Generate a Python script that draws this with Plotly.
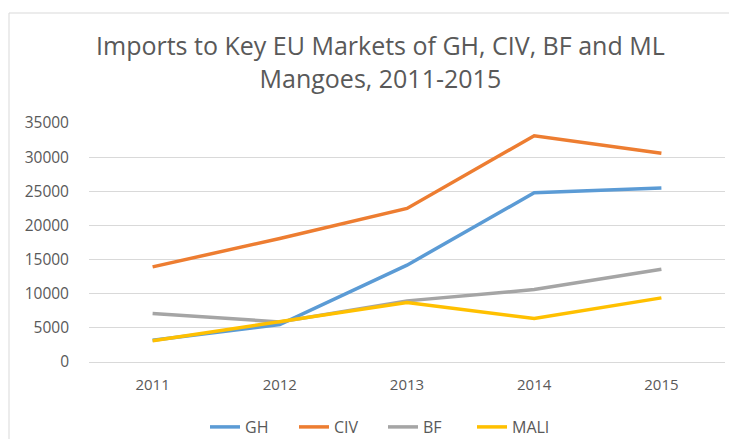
import plotly.graph_objects as go

years = ["2011", "2012", "2013", "2014", "2015"]
gh = [3180, 5480, 14180, 24780, 25470]
civ = [13930, 18090, 22490, 33140, 30560]
bf = [7100, 5870, 8950, 10610, 13590]
mali = [3100, 5870, 8710, 6360, 9390]
y_ticks = [0, 5000, 10000, 15000, 20000, 25000, 30000, 35000]
y_tick_labels = [str(v) for v in y_ticks]

series = [("GH", gh, "#5B9BD5"), ("CIV", civ, "#ED7D31"),
          ("BF", bf, "#A5A5A5"), ("MALI", mali, "#FFC000")]

fig = go.Figure()
for name, vals, col in series:
    fig.add_trace(go.Scatter(x=years, y=vals, name=name, mode="lines",
                             line=dict(color=col, width=3.5)))

font_family = "Open Sans, sans-serif"
OFF = 8  # default page body margin
W, H = 737 - 2 * OFF, 447 - 2 * OFF
# plot area in screen pixels: x 89..725, y 123..362
L = 89 - OFF
R = W - (725 - OFF)
T = 123 - OFF
B = H - (362 - OFF)
pw, ph = W - L - R, H - T - B

def px(sx):
    return (sx - OFF - L) / pw

def py(sy):
    return (H - B - (sy - OFF)) / ph

fig.update_layout(
    width=W, height=H,
    margin=dict(l=L, r=R, t=T, b=B, autoexpand=False),
    paper_bgcolor="white", plot_bgcolor="white",
    font=dict(family=font_family, color="#595959", size=15),
    showlegend=True,
    legend=dict(orientation="h", x=px(383), xanchor="center", y=py(427), yanchor="middle",
                font=dict(size=16, color="#595959"), itemwidth=30, entrywidth=44,
                bgcolor="rgba(0,0,0,0)"),
    xaxis=dict(type="category", range=[-0.5, 4.5], showgrid=False, showline=False,
               ticks="", ticklabelstandoff=12, tickfont=dict(size=15, color="#595959"),
               fixedrange=True),
    yaxis=dict(range=[0, 35000], tickvals=y_ticks, ticktext=y_tick_labels, showgrid=True,
               gridcolor="#D9D9D9", gridwidth=1, zeroline=True, zerolinecolor="#D9D9D9",
               zerolinewidth=1, showline=False, ticks="", ticklabelstandoff=19,
               tickfont=dict(size=15.5, color="#595959"), fixedrange=True),
    annotations=[dict(text="Imports to Key EU Markets of GH, CIV, BF and ML<br>Mangoes, 2011-2015",
                      xref="paper", yref="paper", x=px(380), y=py(61), xanchor="center",
                      yanchor="middle", showarrow=False,
                      font=dict(size=25, color="#595959", family=font_family))],
    shapes=[dict(type="rect", xref="paper", yref="paper", x0=px(9), x1=px(760),
                 y0=py(470), y1=py(13), line=dict(color="#D9D9D9", width=1),
                 fillcolor="rgba(0,0,0,0)", layer="below")],
)

fig.write_html("out.html")
